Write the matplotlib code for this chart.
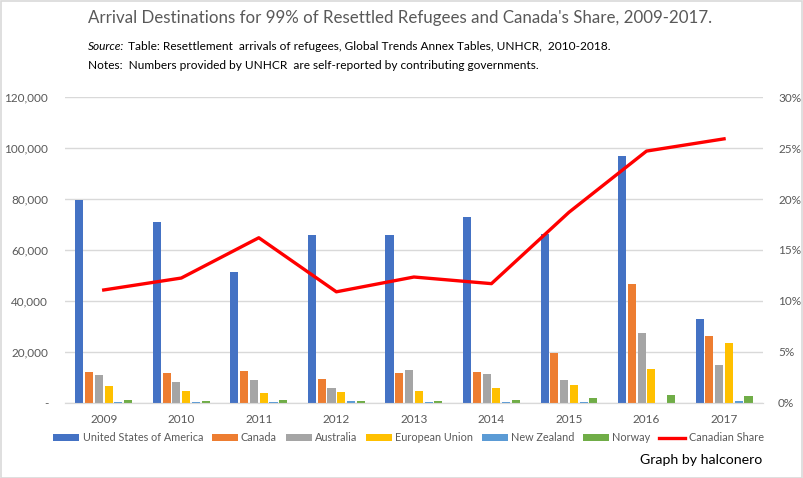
import matplotlib
matplotlib.use("Agg")
import matplotlib.pyplot as plt
import numpy as np
from matplotlib.ticker import FuncFormatter, MultipleLocator

plt.rcParams['font.family'] = ['Lato', 'DejaVu Sans']

# Data
years = ["2009", "2010", "2011", "2012", "2013", "2014", "2015", "2016", "2017"]
usa = [79700, 71100, 51500, 66000, 66000, 73100, 66400, 97000, 33100]
canada = [12300, 11900, 12700, 9500, 11900, 12300, 19700, 46800, 26400]
australia = [11100, 8400, 9200, 6000, 13100, 11500, 9200, 27600, 15000]
eu = [6800, 4800, 4100, 4400, 4800, 6000, 7200, 13500, 23700]
new_zealand = [500, 500, 500, 600, 500, 500, 500, 0, 900]
norway = [1300, 900, 1300, 900, 900, 1300, 2100, 3300, 2900]
canadian_share = [0.1108, 0.1225, 0.162, 0.109, 0.1235, 0.117, 0.187, 0.247, 0.259]

series = [
    ("United States of America", usa, "#4472C4"),
    ("Canada", canada, "#ED7D31"),
    ("Australia", australia, "#A5A5A5"),
    ("European Union", eu, "#FFC000"),
    ("New Zealand", new_zealand, "#5B9BD5"),
    ("Norway", norway, "#70AD47"),
]

fig = plt.figure(figsize=(8.04, 4.78), dpi=100)
ax = fig.add_axes([0.0808, 0.157, 0.868, 0.640])
ax2 = ax.twinx()

x = np.arange(len(years))
slot = 0.126
bw = 0.104
handles = []
for k, (name, vals, col) in enumerate(series):
    off = (k - 2.5) * slot
    b = ax.bar(x + off, vals, bw, color=col, label=name, zorder=3)
    handles.append(b)

line, = ax2.plot(x, canadian_share, color="#FF0000", lw=2.4, label="Canadian Share", zorder=4)
handles.append(line)

grid_col = "#D9D9D9"
tick_col = "#595959"

ax.set_xlim(-0.5, len(years) - 0.5)
ax.set_ylim(0, 120000)
ax.yaxis.set_major_locator(MultipleLocator(20000))
ax.yaxis.set_major_formatter(FuncFormatter(lambda v, p: "-" if v == 0 else f"{int(v):,}"))
ax.set_xticks(x)
ax.set_xticklabels(years)
ax.grid(axis="y", color=grid_col, lw=1, zorder=0)
ax.set_axisbelow(True)

ax2.set_ylim(0, 0.30)
ax2.yaxis.set_major_locator(MultipleLocator(0.05))
ax2.yaxis.set_major_formatter(FuncFormatter(lambda v, p: f"{v * 100:.0f}%"))

for a in (ax, ax2):
    for s in ("top", "left", "right"):
        a.spines[s].set_visible(False)
    a.spines["bottom"].set_color(grid_col)
    a.tick_params(length=0, labelsize=8.5, labelcolor=tick_col)
ax.tick_params(axis="y", pad=12)
ax.tick_params(axis="x", pad=8)
ax2.tick_params(axis="y", pad=11)

fig.text(0.109, 0.962, "Arrival Destinations for 99% of Resettled Refugees and Canada's Share, 2009-2017.",
         fontsize=12.2, color=tick_col, va="center")
fig.text(0.109, 0.902, "Source:", fontsize=8.6, style="italic", va="center")
fig.text(0.159, 0.902, "Table: Resettlement  arrivals of refugees, Global Trends Annex Tables, UNHCR,  2010-2018.",
         fontsize=8.6, va="center")
fig.text(0.109, 0.864, "Notes:  Numbers provided by UNHCR  are self-reported by contributing governments.",
         fontsize=8.6, va="center")
fig.text(0.948, 0.038, "Graph by halconero", fontsize=10.2, ha="right", va="center")

fig.legend(handles=handles, loc="center", bbox_to_anchor=(0.508, 0.084), ncol=7, frameon=False,
           fontsize=7.8, labelcolor=tick_col, handlelength=2.4, handleheight=0.6,
           handletextpad=0.3, columnspacing=0.8)

border = plt.Rectangle((0.001, 0.001), 0.997, 0.997, transform=fig.transFigure,
                       fill=False, edgecolor=grid_col, lw=1.2)
fig.patches.append(border)

fig.savefig("out.png", dpi=100)
